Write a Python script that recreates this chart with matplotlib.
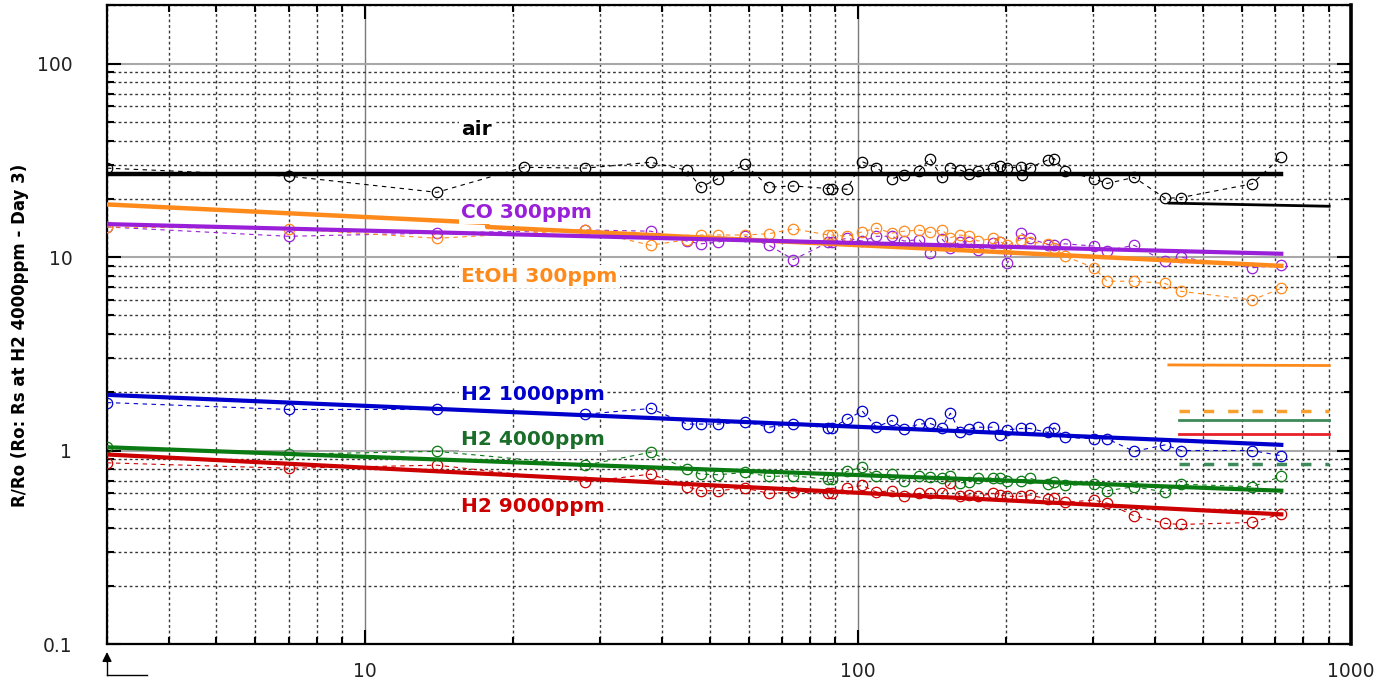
import matplotlib
matplotlib.use("Agg")
import matplotlib.pyplot as plt
from matplotlib.lines import Line2D
from matplotlib.ticker import FixedLocator, LogLocator, NullFormatter, FixedFormatter

# elapsed time (common sampling points) and readings R/Ro
t = [3, 7, 14, 28, 38, 45, 48, 52, 59, 66, 74, 87, 88.5, 95, 102, 109, 117, 124, 133, 140,
     148, 154, 161, 168, 175, 188, 194, 201, 214, 223, 243, 250, 263, 301, 320, 363, 420, 452, 630, 722]
t_air = [3, 7, 14, 21, 28, 38, 45, 48, 52, 59, 66, 74, 87, 88.5, 95, 102, 109, 117, 124, 133, 140,
         148, 154, 161, 168, 175, 188, 194, 201, 214, 215, 223, 243, 250, 263, 301, 320, 363, 420, 452, 630, 722]

air = [28.8, 26.2, 21.6, 29.1, 28.8, 30.9, 28.1, 23.0, 25.4, 30.1, 23.0, 23.3, 22.6, 22.6, 22.4, 31.1, 29.0,
       25.4, 26.4, 27.8, 32.3, 25.8, 29.0, 28.2, 27.0, 27.8, 28.8, 29.7, 28.8, 29.3, 26.4, 29.0, 31.8, 32.3,
       27.7, 25.4, 24.0, 25.8, 20.1, 20.3, 23.9, 33.0]
co = [14.3, 12.8, 13.3, 13.8, 13.6, 12.1, 11.7, 11.95, 12.8, 11.5, 9.7, 11.9, 12.0, 12.5, 12.1, 12.8, 12.8,
      12.1, 12.3, 10.5, 12.4, 11.1, 12.0, 11.95, 10.9, 11.8, 11.95, 9.3, 13.3, 12.5, 11.6, 11.5, 11.7, 11.4,
      10.8, 11.5, 9.5, 9.96, 8.8, 9.1]
etoh = [14.3, 14.0, 12.5, 13.8, 11.5, 12.3, 13.0, 13.0, 13.0, 13.2, 14.0, 13.0, 13.0, 12.8, 13.5, 14.1, 13.3,
        13.6, 13.8, 13.4, 13.8, 12.6, 13.0, 12.8, 12.1, 12.5, 12.0, 11.5, 12.3, 11.95, 11.7, 11.1, 10.1, 8.8,
        7.5, 7.5, 7.3, 6.65, 6.0, 6.9]
h2_1000 = [1.77, 1.63, 1.63, 1.54, 1.65, 1.37, 1.37, 1.37, 1.41, 1.32, 1.37, 1.31, 1.31, 1.45, 1.60, 1.32,
           1.43, 1.29, 1.37, 1.38, 1.31, 1.56, 1.24, 1.29, 1.32, 1.32, 1.21, 1.28, 1.30, 1.30, 1.24, 1.31,
           1.17, 1.15, 1.15, 0.99, 1.07, 1.0, 1.0, 0.94]
h2_4000 = [1.04, 0.957, 0.99, 0.84, 0.98, 0.80, 0.755, 0.75, 0.77, 0.735, 0.74, 0.71, 0.71, 0.78, 0.82, 0.74,
           0.755, 0.70, 0.735, 0.73, 0.72, 0.74, 0.68, 0.69, 0.72, 0.72, 0.72, 0.70, 0.70, 0.72, 0.67, 0.69,
           0.66, 0.67, 0.62, 0.65, 0.61, 0.67, 0.65, 0.735]
h2_9000 = [0.864, 0.81, 0.84, 0.69, 0.755, 0.65, 0.62, 0.62, 0.64, 0.60, 0.61, 0.60, 0.60, 0.64, 0.66, 0.61,
           0.62, 0.58, 0.60, 0.60, 0.60, 0.68, 0.58, 0.59, 0.58, 0.60, 0.59, 0.58, 0.58, 0.59, 0.56, 0.57,
           0.54, 0.555, 0.535, 0.46, 0.42, 0.415, 0.425, 0.47]

# fitted trend lines
fit_t = [3, 722]
air_fit = [26.8, 26.8]
co_fit = [14.8, 10.4]
etoh_fit_t = [3, 17.7, 17.7, 722]
etoh_fit = [18.7, 15.0, 14.3, 9.0]
h2_1000_fit = [1.94, 1.07]
h2_4000_fit = [1.04, 0.62]
h2_9000_fit = [0.954, 0.468]

# reference levels on the right
ref_t_a = [427, 903]
ref_t_b = [448, 903]
air_ref = [19.0, 18.3]
etoh_ref = [2.77, 2.75]
etoh_ref2 = [1.60, 1.60]
h2_4000_ref = [1.43, 1.43]
h2_9000_ref = [1.22, 1.22]
h2_4000_ref2 = [0.857, 0.857]

labels = ["air", "CO 300ppm", "EtOH 300ppm", "H2 1000ppm", "H2 4000ppm", "H2 9000ppm"]
label_y = [45.7, 17.0, 7.93, 1.94, 1.14, 0.511]

BLACK = "black"
PURPLE = "#9a1fd8"
ORANGE = "#ff8a1c"
BLUE = "#0000cc"
GREEN = "#0a7a12"
RED = "#cc0000"

fig = plt.figure(figsize=(13.94, 6.79), dpi=100)
ax = fig.add_axes([0.0768, 0.0515, 0.8924, 0.9407])
ax.set_xscale("log")
ax.set_yscale("log")
ax.set_xlim(3, 1000)
ax.set_ylim(0.1, 200)

series = [(t_air, air, BLACK), (t, co, PURPLE), (t, etoh, ORANGE),
          (t, h2_1000, BLUE), (t, h2_4000, GREEN), (t, h2_9000, RED)]
for xs, ys, c in series:
    ax.plot(xs, ys, color=c, lw=0.8, ls=(0, (4, 4)), marker="o", ms=7.5,
            mfc="none", mec=c, mew=0.9, zorder=3)

ax.plot(fit_t, air_fit, color=BLACK, lw=3.2, zorder=4)
ax.plot(etoh_fit_t, etoh_fit, color=ORANGE, lw=3.2, zorder=4)
ax.plot(fit_t, co_fit, color=PURPLE, lw=3.0, zorder=4)
ax.plot(fit_t, h2_1000_fit, color=BLUE, lw=3.0, zorder=4)
ax.plot(fit_t, h2_4000_fit, color=GREEN, lw=3.0, zorder=4)
ax.plot(fit_t, h2_9000_fit, color=RED, lw=3.0, zorder=4)

ax.plot(ref_t_a, air_ref, color=BLACK, lw=2, zorder=4)
ax.plot(ref_t_a, etoh_ref, color=ORANGE, lw=2, zorder=4)
ax.plot(ref_t_b, etoh_ref2, color="#f7a030", lw=2.5, ls=(0, (3, 4)), zorder=4)
ax.plot(ref_t_b, h2_4000_ref, color="#3d8a5a", lw=2, zorder=4)
ax.plot(ref_t_b, h2_9000_ref, color="#e8202a", lw=2, zorder=4)
ax.plot(ref_t_b, h2_4000_ref2, color="#3d8a5a", lw=2.5, ls=(0, (3, 4)), zorder=4)

text_colors = [BLACK, PURPLE, ORANGE, BLUE, "#1a6e2a", RED]
for lab, y, c in zip(labels, label_y, text_colors):
    ax.text(15.7, y, lab, color=c, fontsize=14.5, fontweight="bold", ha="left", va="center",
            bbox=dict(facecolor="white", edgecolor="none", pad=1.5), zorder=5)

# axes, ticks and grid
ax.xaxis.set_major_locator(FixedLocator([10, 100, 1000]))
ax.xaxis.set_major_formatter(FixedFormatter(["10", "100", "1000"]))
ax.xaxis.set_minor_locator(LogLocator(base=10, subs=range(2, 10)))
ax.xaxis.set_minor_formatter(NullFormatter())
ax.yaxis.set_major_locator(FixedLocator([0.1, 1, 10, 100]))
ax.yaxis.set_major_formatter(FixedFormatter(["0.1", "1", "10", "100"]))
ax.yaxis.set_minor_locator(LogLocator(base=10, subs=range(2, 10)))
ax.yaxis.set_minor_formatter(NullFormatter())

ax.grid(which="major", axis="y", color="#a8a8a8", lw=1.5, ls="-", zorder=1)
ax.grid(which="major", axis="x", color="#7a7a7a", lw=1.0, ls="-", zorder=1)
ax.grid(which="minor", color="#383838", lw=1.0, ls=(0, (2, 2)), zorder=1)
ax.set_axisbelow(True)

ax.tick_params(which="both", direction="in", top=True, right=True, width=1.5, color="black")
ax.tick_params(which="major", length=10)
ax.tick_params(which="minor", length=5)
ax.tick_params(axis="y", which="major", pad=25, labelsize=13.5, labelcolor="#222222")
ax.tick_params(axis="x", which="major", pad=13, labelsize=13.5, labelcolor="#222222")
for side in ["left", "bottom", "top"]:
    ax.spines[side].set_linewidth(1.6)
ax.spines["right"].set_linewidth(2.6)

fig.text(0.0143, 0.5066, "R/Ro (Ro: Rs at H2 4000ppm - Day 3)", rotation=90, fontsize=12,
         fontweight="bold", ha="center", va="center")

# small origin marker below the axes
x0 = 107 / 1394
y_low = 1 - 675 / 679
fig.add_artist(Line2D([x0, 147 / 1394], [y_low, y_low], color="black", lw=1))
fig.add_artist(Line2D([x0, x0], [y_low, 1 - 660 / 679], color="black", lw=1))
ax.annotate("", xy=(x0, 1 - 652 / 679), xytext=(x0, 1 - 662 / 679), xycoords="figure fraction",
            textcoords="figure fraction",
            arrowprops=dict(arrowstyle="-|>", color="black", lw=1, mutation_scale=14,
                            shrinkA=0, shrinkB=0))

fig.savefig("out.png", dpi=100)
